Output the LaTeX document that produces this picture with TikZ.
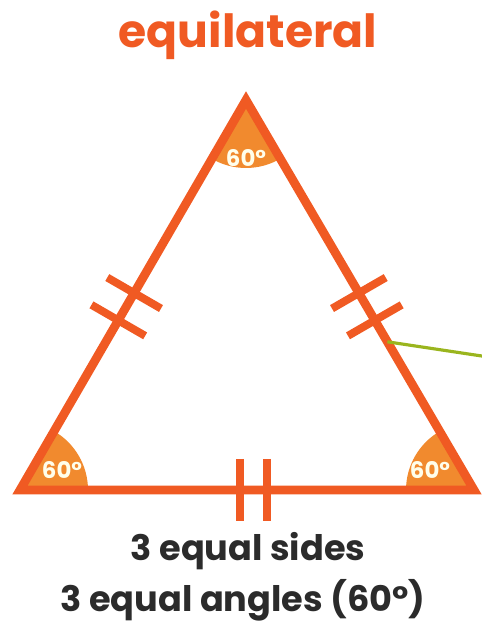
\documentclass[tikz,border=0pt]{standalone}
\usepackage{fontspec}
\setmainfont{Poppins}
\usetikzlibrary{calc}

\definecolor{triorange}{RGB}{240,90,35}
\definecolor{anglefill}{RGB}{241,138,46}
\definecolor{markgreen}{RGB}{154,181,30}
\definecolor{textdark}{RGB}{43,43,43}

\begin{document}
\begin{tikzpicture}[
  x=0.02cm, y=0.02cm,
  side/.style={draw=triorange, line width=5pt, line join=miter},
  tick/.style={draw=triorange, line width=4.5pt},
  sector/.style={fill=anglefill},
  deg/.style={text=white!92!yellow, font=\fontsize{13}{15}\selectfont\bfseries},
  caption/.style={text=textdark, font=\fontsize{20}{24}\selectfont\bfseries}
]
  \useasboundingbox (0,0) rectangle (481,628);

  \coordinate (T) at (246,528);
  \coordinate (L) at (20,138);
  \coordinate (R) at (474,138);

  % angle sectors
  \fill[sector] (L) -- ++(0:68) arc[start angle=0, end angle=60, radius=68] -- cycle;
  \fill[sector] (R) -- ++(120:68) arc[start angle=120, end angle=180, radius=68] -- cycle;
  \fill[sector] (T) -- ++(240:68) arc[start angle=240, end angle=300, radius=68] -- cycle;

  \draw[side] (T) -- (L) -- (R) -- cycle;

  % equal-side marks
  \foreach \p in {0.495,0.565} {
    \draw[tick] ($(T)!\p!(L)$) ++(150:31) -- ++(330:62);
    \draw[tick] ($(T)!\p!(R)$) ++(30:31) -- ++(210:62);
  }
  \foreach \p in {0.485,0.544}
    \draw[tick] ($(L)!\p!(R)$) ++(0,31) -- ++(0,-62);

  % pointer
  \coordinate (P) at ($(T)!0.62!(R)$);
  \coordinate (Pend) at (495,270);
  \draw[markgreen, line width=1.8pt] (P) -- (Pend);

  \node[deg] (degT) at (246,470) {60°};
  \node[deg] (degL) at (62,158) {60°};
  \node[deg] (degR) at (430,158) {60°};

  \node[text=triorange, font=\fontsize{26}{30}\selectfont\bfseries] (title) at (248,593) {equilateral};
  \node[caption] (sides) at (248,77) {3 equal sides};
  \node[caption] (angles) at (243,28) {3 equal angles (60°)};
\end{tikzpicture}
\end{document}
